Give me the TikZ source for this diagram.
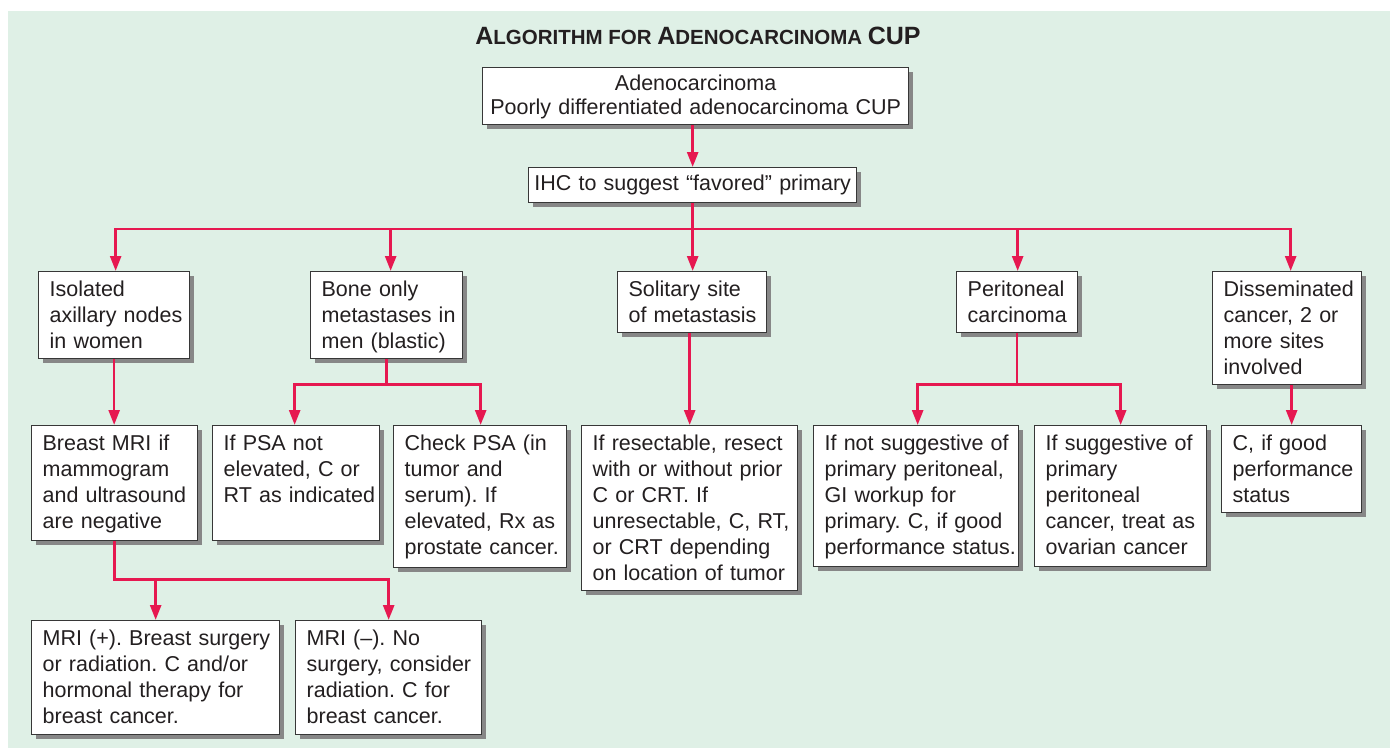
\documentclass[tikz,border=0pt]{standalone}
\usepackage{fontspec}
\setmainfont{Liberation Sans}
\usetikzlibrary{arrows.meta,shadows}
\definecolor{bggreen}{RGB}{223,240,230}
\definecolor{arrowred}{RGB}{230,24,80}
\definecolor{boxline}{RGB}{55,55,55}
\definecolor{txt}{RGB}{35,31,32}
\definecolor{shadowgray}{RGB}{135,135,135}
\frenchspacing
\tikzset{
  box/.style={draw=boxline, line width=1.3pt, fill=white, anchor=north west,
    inner sep=0pt, text=txt, font=\fontsize{21.5pt}{26pt}\selectfont,
    text height=24.5pt,
    drop shadow={shadow xshift=4pt, shadow yshift=-4pt, fill=shadowgray, opacity=1}},
  lbox/.style={box, execute at begin node={\frenchspacing\leftskip=11pt\rightskip=0pt plus 1fil minus 40pt\relax}},
  cbox/.style={box, align=center},
  conn/.style={draw=arrowred, line width=2.6pt},
  arr/.style={conn, -{Triangle[width=11pt,length=15pt]}},
}
\newcommand{\tbig}{\fontsize{25pt}{30pt}\selectfont}
\newcommand{\tsmall}{\fontsize{20.5pt}{24pt}\selectfont}
\begin{document}
\begin{tikzpicture}[x=1pt,y=-1pt]
\useasboundingbox (0,0) rectangle (1390,748);
\fill[bggreen] (8,11) rectangle (1390,748);

\node[anchor=base, text=txt, font=\bfseries] (title) at (698,44)
  {\tbig A\tsmall LGORITHM FOR \tbig A\tsmall DENOCARCINOMA \tbig CUP};

\node[cbox, text width=426pt, text height=23pt, text depth=34pt,
  font=\fontsize{21.5pt}{24pt}\selectfont] (top) at (482,67)
  {Adenocarcinoma\\Poorly differentiated adenocarcinoma CUP};
\node[cbox, text width=328pt, text height=23pt, text depth=12pt] (ihc) at (528,167)
  {IHC to suggest “favored” primary};

\node[lbox, text width=151pt, text depth=62.5pt] (iso) at (38,271)
  {Isolated\\axillary nodes\\in women};
\node[lbox, text width=152pt, text depth=62.5pt] (bone) at (310,271)
  {Bone only\\metastases in\\men (blastic)};
\node[lbox, text width=149pt, text depth=36.5pt] (sol) at (617,271)
  {Solitary site\\of metastasis};
\node[lbox, text width=121pt, text depth=36.5pt] (per) at (956,271)
  {Peritoneal\\carcinoma};
\node[lbox, text width=149pt, text depth=88.5pt] (dis) at (1212,271)
  {Disseminated\\cancer, 2 or\\more sites\\involved};

\node[lbox, text width=166pt, text depth=90.5pt] (mri) at (31,425)
  {Breast MRI if\\mammogram\\and ultrasound\\are negative};
\node[lbox, text width=167pt, text depth=90.5pt] (psa1) at (212,425)
  {If PSA not\\elevated, C or\\RT as indicated};
\node[lbox, text width=173pt, text depth=117.5pt] (psa2) at (393,425)
  {Check PSA (in\\tumor and\\serum). If\\elevated, Rx as\\prostate cancer.};
\node[lbox, text width=216pt, text depth=140.5pt] (res) at (581,425)
  {If resectable, resect\\with or without prior\\C or CRT. If\\unresectable, C, RT,\\or CRT depending\\on location of tumor};
\node[lbox, text width=205pt, text depth=116.5pt] (ns) at (813,425)
  {If not suggestive of\\primary peritoneal,\\GI workup for\\primary. C, if good\\performance status.};
\node[lbox, text width=172pt, text depth=116.5pt] (sg) at (1034,425)
  {If suggestive of\\primary\\peritoneal\\cancer, treat as\\ovarian cancer};
\node[lbox, text width=140pt, text depth=62.5pt] (cg) at (1221,425)
  {C, if good\\performance\\status};

\node[lbox, text width=248pt, text depth=89.5pt] (mp) at (31,620)
  {MRI (+). Breast surgery\\or radiation. C and/or\\hormonal therapy for\\breast cancer.};
\node[lbox, text width=186pt, text depth=89.5pt] (mn) at (295,620)
  {MRI (–). No\\surgery, consider\\radiation. C for\\breast cancer.};

% connectors
\draw[arr] (ihc.north |- top.south) -- (ihc.north);
\coordinate (bus) at (ihc.south |- 0,229);
\draw[arr] (ihc.south) -- (bus |- sol.north);
\draw[arr] (bus) -| ([xshift=1.5pt]iso.north);
\draw[arr] (bus) -| ([xshift=4pt]bone.north);
\draw[arr] (bus) -| ([xshift=0.5pt]per.north);
\draw[arr] (bus) -| ([xshift=3.5pt]dis.north);

\draw[arr] (iso.south) -- (iso.south |- mri.north);
\draw[arr] (bone.south) -- ++(0,25) -| ([xshift=-1.5pt]psa1.north);
\draw[arr] (bone.south) -- ++(0,25) -| ([xshift=0.5pt]psa2.north);
\draw[arr] (res.north |- sol.south) -- (res.north);
\draw[arr] (per.south) -- ++(0,51) -| ([xshift=1.5pt]ns.north);
\draw[arr] (per.south) -- ++(0,51) -| (sg.north);
\draw[arr] (cg.north |- dis.south) -- (cg.north);

\draw[arr] (mri.south) -- ++(0,38) -| (mp.north);
\draw[arr] (mri.south) -- ++(0,38) -| (mn.north);
\end{tikzpicture}
\end{document}
